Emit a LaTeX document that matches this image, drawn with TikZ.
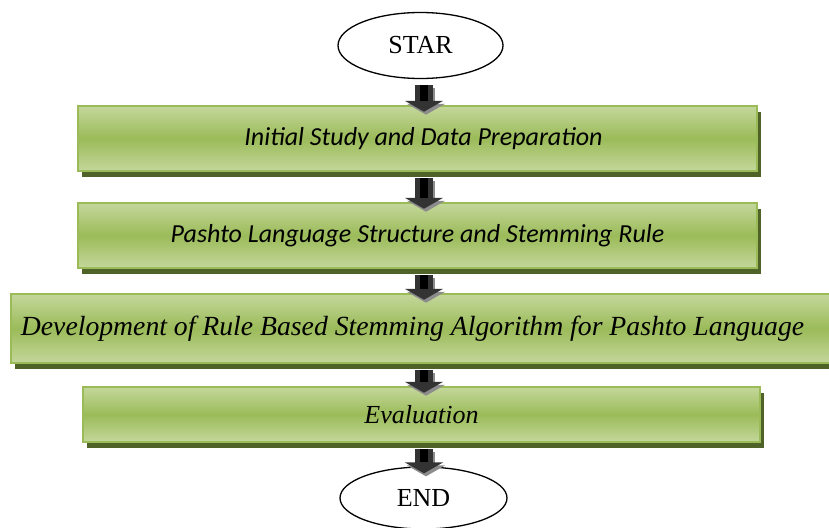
\documentclass[tikz,border=0pt]{standalone}
\usepackage{fontspec}
\setmainfont{Liberation Serif}
\newfontfamily\carlito{Carlito}
\usetikzlibrary{shapes.geometric}
\usetikzlibrary{shadows}
\usetikzlibrary{arrows.meta}
\definecolor{olivemid}{RGB}{155,187,89}
\definecolor{olivelight}{RGB}{196,215,155}
\definecolor{oliveshadow}{RGB}{79,98,40}
\tikzset{
  stepbox/.style= {draw=olivemid, line width=2.5pt, top color=olivelight, bottom color=olivelight,
    middle color=olivemid, inner sep=0pt,
    drop shadow={shadow xshift=4pt, shadow yshift=-6pt, fill=oliveshadow, opacity=1}},
  term/.style= {draw, ellipse, line width=1.3pt, fill=white, inner sep=0pt,
    font=\fontsize{26}{30}\selectfont},
  blockarrow/.style= {line width=18pt, black!80, -{Triangle[width=38pt,length=11pt]}},
  arrowshade/.style= {line width=18pt, black!45, -{Triangle[width=38pt,length=11pt]},
    transform canvas={xshift=2pt, yshift=-3pt}},
}
\begin{document}
\begin{tikzpicture}[x=1pt, y=-1pt]
  \useasboundingbox (0,0) rectangle (829,527);
  \coordinate (ax) at (424,0);

  \node [term, minimum width=165, minimum height=66] (start) at (420.5,45.5) {STAR};
  \node [stepbox, minimum width=679, minimum height=65] (b1) at (417.5,138.5)
    {\hspace*{12pt}\carlito\itshape\fontsize{26}{30}\selectfont Initial Study and Data Preparation};
  \node [stepbox, minimum width=679, minimum height=65] (b2) at (417.5,235.5)
    {\carlito\itshape\fontsize{26}{30}\selectfont Pashto Language Structure and Stemming Rule};
  \node [stepbox, minimum width=834, minimum height=69] (b3) at (428,328.5)
    {\hspace*{-31pt}\itshape\fontsize{27.7}{32}\selectfont Development of Rule Based Stemming Algorithm for Pashto Language};
  \node [stepbox, minimum width=677, minimum height=55] (b4) at (421.5,414.5)
    {\itshape\fontsize{26}{30}\selectfont Evaluation};
  \node [term, minimum width=167, minimum height=62] (end) at (423.5,498) {END};

  % block arrows between the steps
  \foreach \a/\b in {start/b1, b1/b2, b2/b3, b3/b4, b4/end} {
    \draw [arrowshade, shorten <=6pt, shorten >=-7pt] (\a.south -| ax) -- (\b.north -| ax);
    \draw [blockarrow, shorten <=6pt, shorten >=-7pt] (\a.south -| ax) -- (\b.north -| ax);
    \draw [line width=8pt, black, shorten <=6pt, shorten >=4pt] (\a.south -| ax) -- (\b.north -| ax);
  }
\end{tikzpicture}
\end{document}
